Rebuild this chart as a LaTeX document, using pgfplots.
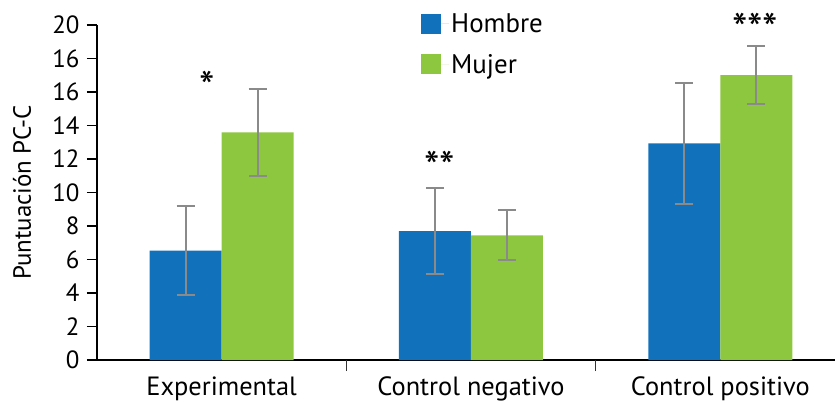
\documentclass[border=0pt]{standalone}
\usepackage{pgfplots}
\pgfplotsset{compat=1.18}
\usepackage{fontspec}
\setmainfont{PT Sans}
\usetikzlibrary{calc}
\definecolor{hblue}{HTML}{1172BB}
\definecolor{mgreen}{HTML}{8DC63F}
\definecolor{ebar}{HTML}{8A8A8A}
\newcommand{\bigf}{\fontsize{25}{28}\selectfont}
\newcommand{\catf}{\fontsize{26.5}{28}\selectfont}
\newcommand{\legf}{\fontsize{27}{30}\selectfont}
\newcommand{\starf}{\fontsize{44}{46}\selectfont}
\begin{document}
\begin{tikzpicture}
\begin{axis}[
  scale only axis,
  width=738bp, height=335bp,
  xmin=-0.5, xmax=2.46,
  ymin=0, ymax=20,
  axis x line=bottom, axis y line=left,
  axis line style={line width=2.4bp, -},
  /pgf/number format/assume math mode=true,
  ytick={0,2,...,20},
  yticklabels={0,2,4,6,8,10,12,14,16,16,20},
  ytick align=outside,
  major tick length=10bp,
  tick style={line width=1.4bp, black},
  yticklabel style={font=\bigf, xshift=-4bp},
  xtick={0,1,2},
  xticklabels={Experimental, Control negativo, Control positivo},
  xtick style={draw=none},
  xticklabel style={yshift=-3.5bp, font=\catf},
  extra x ticks={0.5,1.5},
  extra x tick labels={},
  extra x tick style={xtick align=outside, xtick style={draw=black!80, line width=1.2bp}, major tick length=11bp},
  ylabel={Puntuación PC-C},
  ylabel style={at={(axis description cs:-0.1016,0.5)}, anchor=center, font=\bigf},
  ybar=0pt, bar width=72bp,
  clip=false,
  legend style={at={(axis description cs:0.439,1.04)}, anchor=north west, draw=none, fill=none,
    font=\legf, row sep=16bp, inner sep=0pt},
  legend cell align=left,
  legend image code/.code={\fill[#1] (0bp,-10bp) rectangle (20bp,10bp); \path (0bp,0bp) -- (28bp,0bp);},
  error bars/y dir=both, error bars/y explicit,
  error bars/error bar style={line width=2bp, ebar},
  error bars/error mark options={rotate=90, mark size=9bp, line width=2bp, ebar},
]
\addplot[fill=hblue, draw=none] coordinates {
  (0,6.53) +- (0,2.66)
  (1,7.70) +- (0,2.58)
  (2,12.93) +- (0,3.63)
};
\addlegendentry{Hombre}
\addplot[fill=mgreen, draw=none] coordinates {
  (0,13.59) +- (0,2.6)
  (1,7.44) +- (0,1.49)
  (2,17.01) +- (0,1.75)
};
\addlegendentry{Mujer}
\node[font=\starf, inner sep=0pt] at (axis cs:-0.06,16.3) {*};
\node[font=\starf, inner sep=0pt] at (axis cs:0.875,11.55) {**};
\node[font=\starf, inner sep=0pt] at (axis cs:2.14,19.75) {***};
\end{axis}
\pgfresetboundingbox
\path[use as bounding box] ($(current axis.south west)+(-97bp,-43bp)$) rectangle ($(current axis.north east)+(0,25bp)$);
\end{tikzpicture}
\end{document}
